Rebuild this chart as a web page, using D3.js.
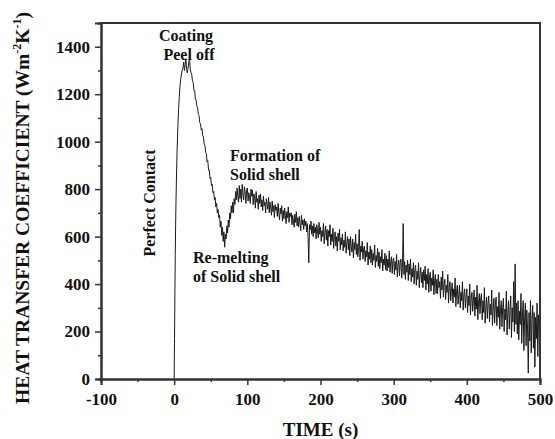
<!DOCTYPE html>
<html>
<head>
<meta charset="utf-8">
<script src="https://cdn.jsdelivr.net/npm/d3@7"></script>
<style>
  body{margin:0;background:#fff;}
  svg text{font-family:"Liberation Serif","Times New Roman",serif;font-weight:bold;fill:#111;}
</style>
</head>
<body>
<svg width="555" height="439"></svg>
<script>
// axes
const xDomain = [-100, 500];
const yDomain = [0, 1500];
const xMajor = [-100, 0, 100, 200, 300, 400, 500];
const xMinor = [-50, 50, 150, 250, 350, 450];
const yMajor = [0, 200, 400, 600, 800, 1000, 1200, 1400];
const yMinor = [100, 300, 500, 700, 900, 1100, 1300, 1500];

// heat transfer coefficient, rise and peak (time s, value W/m2K)
const rise = [[0,0],[0.5,170],[1,360],[1.5,520],[2,650],[2.5,750],[3,830],[4,960],[5,1060],[6,1135],
  [7,1190],[8,1235],[9,1265],[10,1285],[11,1300],[12,1310],[13,1335],[14,1300],[15,1325],[16,1350],
  [17,1305],[18,1290],[19,1310],[20,1335],[21,1350],[22,1305],[23,1290],[24,1285],[25,1255],[26,1250],
  [27,1215],[28,1215],[29,1180],[30,1175],[31,1150],[32,1145],[33,1115],[34,1110],[35,1080],[36,1075],
  [37,1050],[38,1055],[39,1025],[40,1020],[41,990],[42,985],[43,955],[44,950],[45,915],[46,920],
  [47,880],[48,880],[49,845],[50,850],[51,815],[52,820],[53,785],[54,790],[55,755],[56,765],
  [57,725],[58,740],[59,700],[60,715],[61,680],[62,690],[63,640],[64,665],[65,605],[66,640],
  [67,580],[68,620],[69,555],[70,610],[71,590],[72,645],[73,615],[74,670],[75,640],[76,700],
  [77,675],[78,730],[79,700]];

// shell formation and slow decay, 1 s samples
const decay = [
  [80,745],[81,700],[82,760],[83,735],[84,790],[85,755],[86,805],[87,770],[88,745],[89,815],
  [90,760],[91,800],[92,745],[93,820],[94,780],[95,755],[96,810],[97,790],[98,740],[99,795],
  [100,805],[101,750],[102,785],[103,765],[104,740],[105,800],[106,770],[107,795],[108,735],[109,780],
  [110,765],[111,720],[112,790],[113,745],[114,760],[115,715],[116,775],[117,740],[118,780],[119,725],
  [120,755],[121,710],[122,770],[123,730],[124,745],[125,700],[126,760],[127,735],[128,715],[129,765],
  [130,700],[131,745],[132,720],[133,690],[134,750],[135,705],[136,730],[137,680],[138,735],[139,710],
  [140,725],[141,685],[142,740],[143,700],[144,670],[145,720],[146,695],[147,730],[148,665],[149,710],
  [150,675],[151,720],[152,690],[153,655],[154,705],[155,680],[156,725],[157,660],[158,700],[159,685],
  [160,700],[161,650],[162,690],[163,665],[164,640],[165,695],[166,660],[167,705],[168,645],[169,680],
  [170,640],[171,685],[172,655],[173,625],[174,690],[175,650],[176,670],[177,630],[178,675],[179,645],
  [180,665],[181,620],[182,655],[183,600],[184,490],[185,650],[186,630],[187,665],[188,610],[189,645],
  [190,600],[191,655],[192,615],[193,640],[194,590],[195,650],[196,620],[197,595],[198,660],[199,610],
  [200,640],[201,580],[202,625],[203,600],[204,655],[205,570],[206,615],[207,645],[208,585],[209,630],
  [210,560],[211,625],[212,600],[213,650],[214,565],[215,610],[216,580],[217,635],[218,550],[219,605],
  [220,620],[221,560],[222,600],[223,540],[224,615],[225,580],[226,630],[227,545],[228,595],[229,565],
  [230,610],[231,540],[232,585],[233,555],[234,620],[235,530],[236,575],[237,600],[238,545],[239,590],
  [240,520],[241,600],[242,560],[243,535],[244,590],[245,510],[246,575],[247,545],[248,610],[249,525],
  [250,570],[251,515],[252,555],[253,630],[254,500],[255,560],[256,535],[257,580],[258,505],[259,550],
  [260,560],[261,495],[262,540],[263,515],[264,575],[265,480],[266,535],[267,505],[268,560],[269,490],
  [270,545],[271,480],[272,530],[273,500],[274,565],[275,470],[276,520],[277,495],[278,550],[279,475],
  [280,535],[281,465],[282,515],[283,490],[284,545],[285,455],[286,505],[287,480],[288,530],[289,460],
  [290,520],[291,455],[292,505],[293,470],[294,540],[295,450],[296,495],[297,515],[298,445],[299,500],
  [300,510],[301,440],[302,495],[303,460],[304,525],[305,430],[306,480],[307,500],[308,435],[309,490],
  [310,505],[311,425],[312,470],[313,655],[314,440],[315,495],[316,420],[317,480],[318,450],[319,500],
  [320,415],[321,485],[322,440],[323,505],[324,410],[325,465],[326,430],[327,490],[328,400],[329,460],
  [330,480],[331,395],[332,455],[333,420],[334,490],[335,385],[336,445],[337,470],[338,405],[339,450],
  [340,385],[341,460],[342,415],[343,475],[344,375],[345,440],[346,400],[347,465],[348,365],[349,430],
  [350,450],[351,370],[352,425],[353,395],[354,460],[355,355],[356,415],[357,440],[358,360],[359,420],
  [360,360],[361,440],[362,385],[363,410],[364,340],[365,430],[366,375],[367,455],[368,345],[369,400],
  [370,420],[371,335],[372,395],[373,365],[374,440],[375,320],[376,385],[377,410],[378,330],[379,375],
  [380,405],[381,320],[382,380],[383,345],[384,425],[385,305],[386,370],[387,395],[388,315],[389,360],
  [390,395],[391,300],[392,365],[393,330],[394,410],[395,290],[396,355],[397,380],[398,300],[399,345],
  [400,380],[401,280],[402,350],[403,310],[404,400],[405,270],[406,340],[407,365],[408,285],[409,330],
  [410,375],[411,265],[412,345],[413,295],[414,395],[415,250],[416,320],[417,360],[418,275],[419,340],
  [420,360],[421,250],[422,330],[423,280],[424,385],[425,235],[426,305],[427,345],[428,255],[429,320],
  [430,350],[431,240],[432,315],[433,270],[434,375],[435,225],[436,295],[437,340],[438,235],[439,310],
  [440,345],[441,225],[442,305],[443,260],[444,365],[445,210],[446,290],[447,330],[448,220],[449,300],
  [450,340],[451,200],[452,295],[453,250],[454,370],[455,185],[456,280],[457,330],[458,210],[459,290],
  [460,350],[461,175],[462,300],[463,240],[464,410],[465,200],[466,485],[467,230],[468,320],[469,190],
  [470,330],[471,165],[472,285],[473,230],[474,360],[475,150],[476,270],[477,330],[478,120],[479,260],
  [480,320],[481,140],[482,290],[483,210],[484,25],[485,280],[486,160],[487,330],[488,110],[489,250],
  [490,310],[491,130],[492,280],[493,50],[494,260],[495,170],[496,320],[497,95],[498,270],[499,180],
  [500,60]];

const svg = d3.select("svg");
const pLeft = 101, pRight = 540, pTop = 23, pBottom = 379;

const x = d3.scaleLinear().domain(xDomain).range([pLeft, pRight]);
const y = d3.scaleLinear().domain(yDomain).range([pBottom, pTop]);

// curve
const line = d3.line().x(d => x(d[0])).y(d => y(d[1]));
svg.append("path")
   .datum(rise.concat(decay))
   .attr("d", line)
   .attr("fill", "none")
   .attr("stroke", "#1a1a1a")
   .attr("stroke-width", 1)
   .attr("stroke-linejoin", "round");

// axes (hyphen minus as in the original)
const fmt = d => String(d);
const xAxis = svg.append("g").attr("transform", `translate(0,${pBottom})`)
   .call(d3.axisBottom(x).tickValues(xMajor).tickSize(6).tickPadding(5).tickFormat(fmt));
svg.append("g").attr("transform", `translate(0,${pBottom})`)
   .call(d3.axisBottom(x).tickValues(xMinor).tickSize(3).tickFormat(""));
const yAxis = svg.append("g").attr("transform", `translate(${pLeft},0)`)
   .call(d3.axisLeft(y).tickValues(yMajor).tickSize(6).tickPadding(5).tickFormat(fmt));
svg.append("g").attr("transform", `translate(${pLeft},0)`)
   .call(d3.axisLeft(y).tickValues(yMinor).tickSize(3).tickFormat(""));

svg.selectAll(".domain").attr("stroke", "#333").attr("stroke-width", 2);
svg.selectAll(".tick line").attr("stroke", "#333").attr("stroke-width", 1.5);
svg.selectAll(".tick text")
   .style("font-family", '"Liberation Serif", serif')
   .style("font-weight", "bold")
   .style("font-size", "17px")
   .attr("fill", "#111");
xAxis.selectAll(".tick text").attr("dy", "0.9em");

// top and right frame
svg.append("path")
   .attr("d", `M ${pLeft} ${pTop} L ${pRight} ${pTop} L ${pRight} ${pBottom}`)
   .attr("fill", "none").attr("stroke", "#333").attr("stroke-width", 2);

// axis titles
svg.append("text").attr("x", (pLeft + pRight) / 2).attr("y", 436)
   .attr("text-anchor", "middle").style("font-size", "19px").text("TIME (s)");

const yt = svg.append("text").attr("transform", "translate(29,208) rotate(-90)")
   .attr("text-anchor", "middle").style("font-size", "19.5px");
yt.append("tspan").text("HEAT TRANSFER COEFFICIENT (Wm");
yt.append("tspan").attr("dy", -8).style("font-size", "12px").text("-2");
yt.append("tspan").attr("dy", 8).text("K");
yt.append("tspan").attr("dy", -8).style("font-size", "12px").text("-1");
yt.append("tspan").attr("dy", 8).text(")");

// annotations
const notes = [
  {t: "Coating", x: 186, y: 41, a: "middle"},
  {t: "Peel off", x: 189, y: 60, a: "middle"},
  {t: "Formation of", x: 230, y: 161, a: "start"},
  {t: "Solid shell", x: 230, y: 180, a: "start"},
  {t: "Re-melting", x: 193, y: 263, a: "start"},
  {t: "of Solid shell", x: 193, y: 282, a: "start"}
];
svg.selectAll("text.note").data(notes).enter().append("text")
   .attr("class", "note")
   .attr("x", d => d.x).attr("y", d => d.y)
   .attr("text-anchor", d => d.a)
   .style("font-size", "16px")
   .text(d => d.t);

svg.append("text").attr("transform", "translate(155,203) rotate(-90)")
   .attr("text-anchor", "middle").style("font-size", "16px").text("Perfect Contact");
</script>
</body>
</html>
